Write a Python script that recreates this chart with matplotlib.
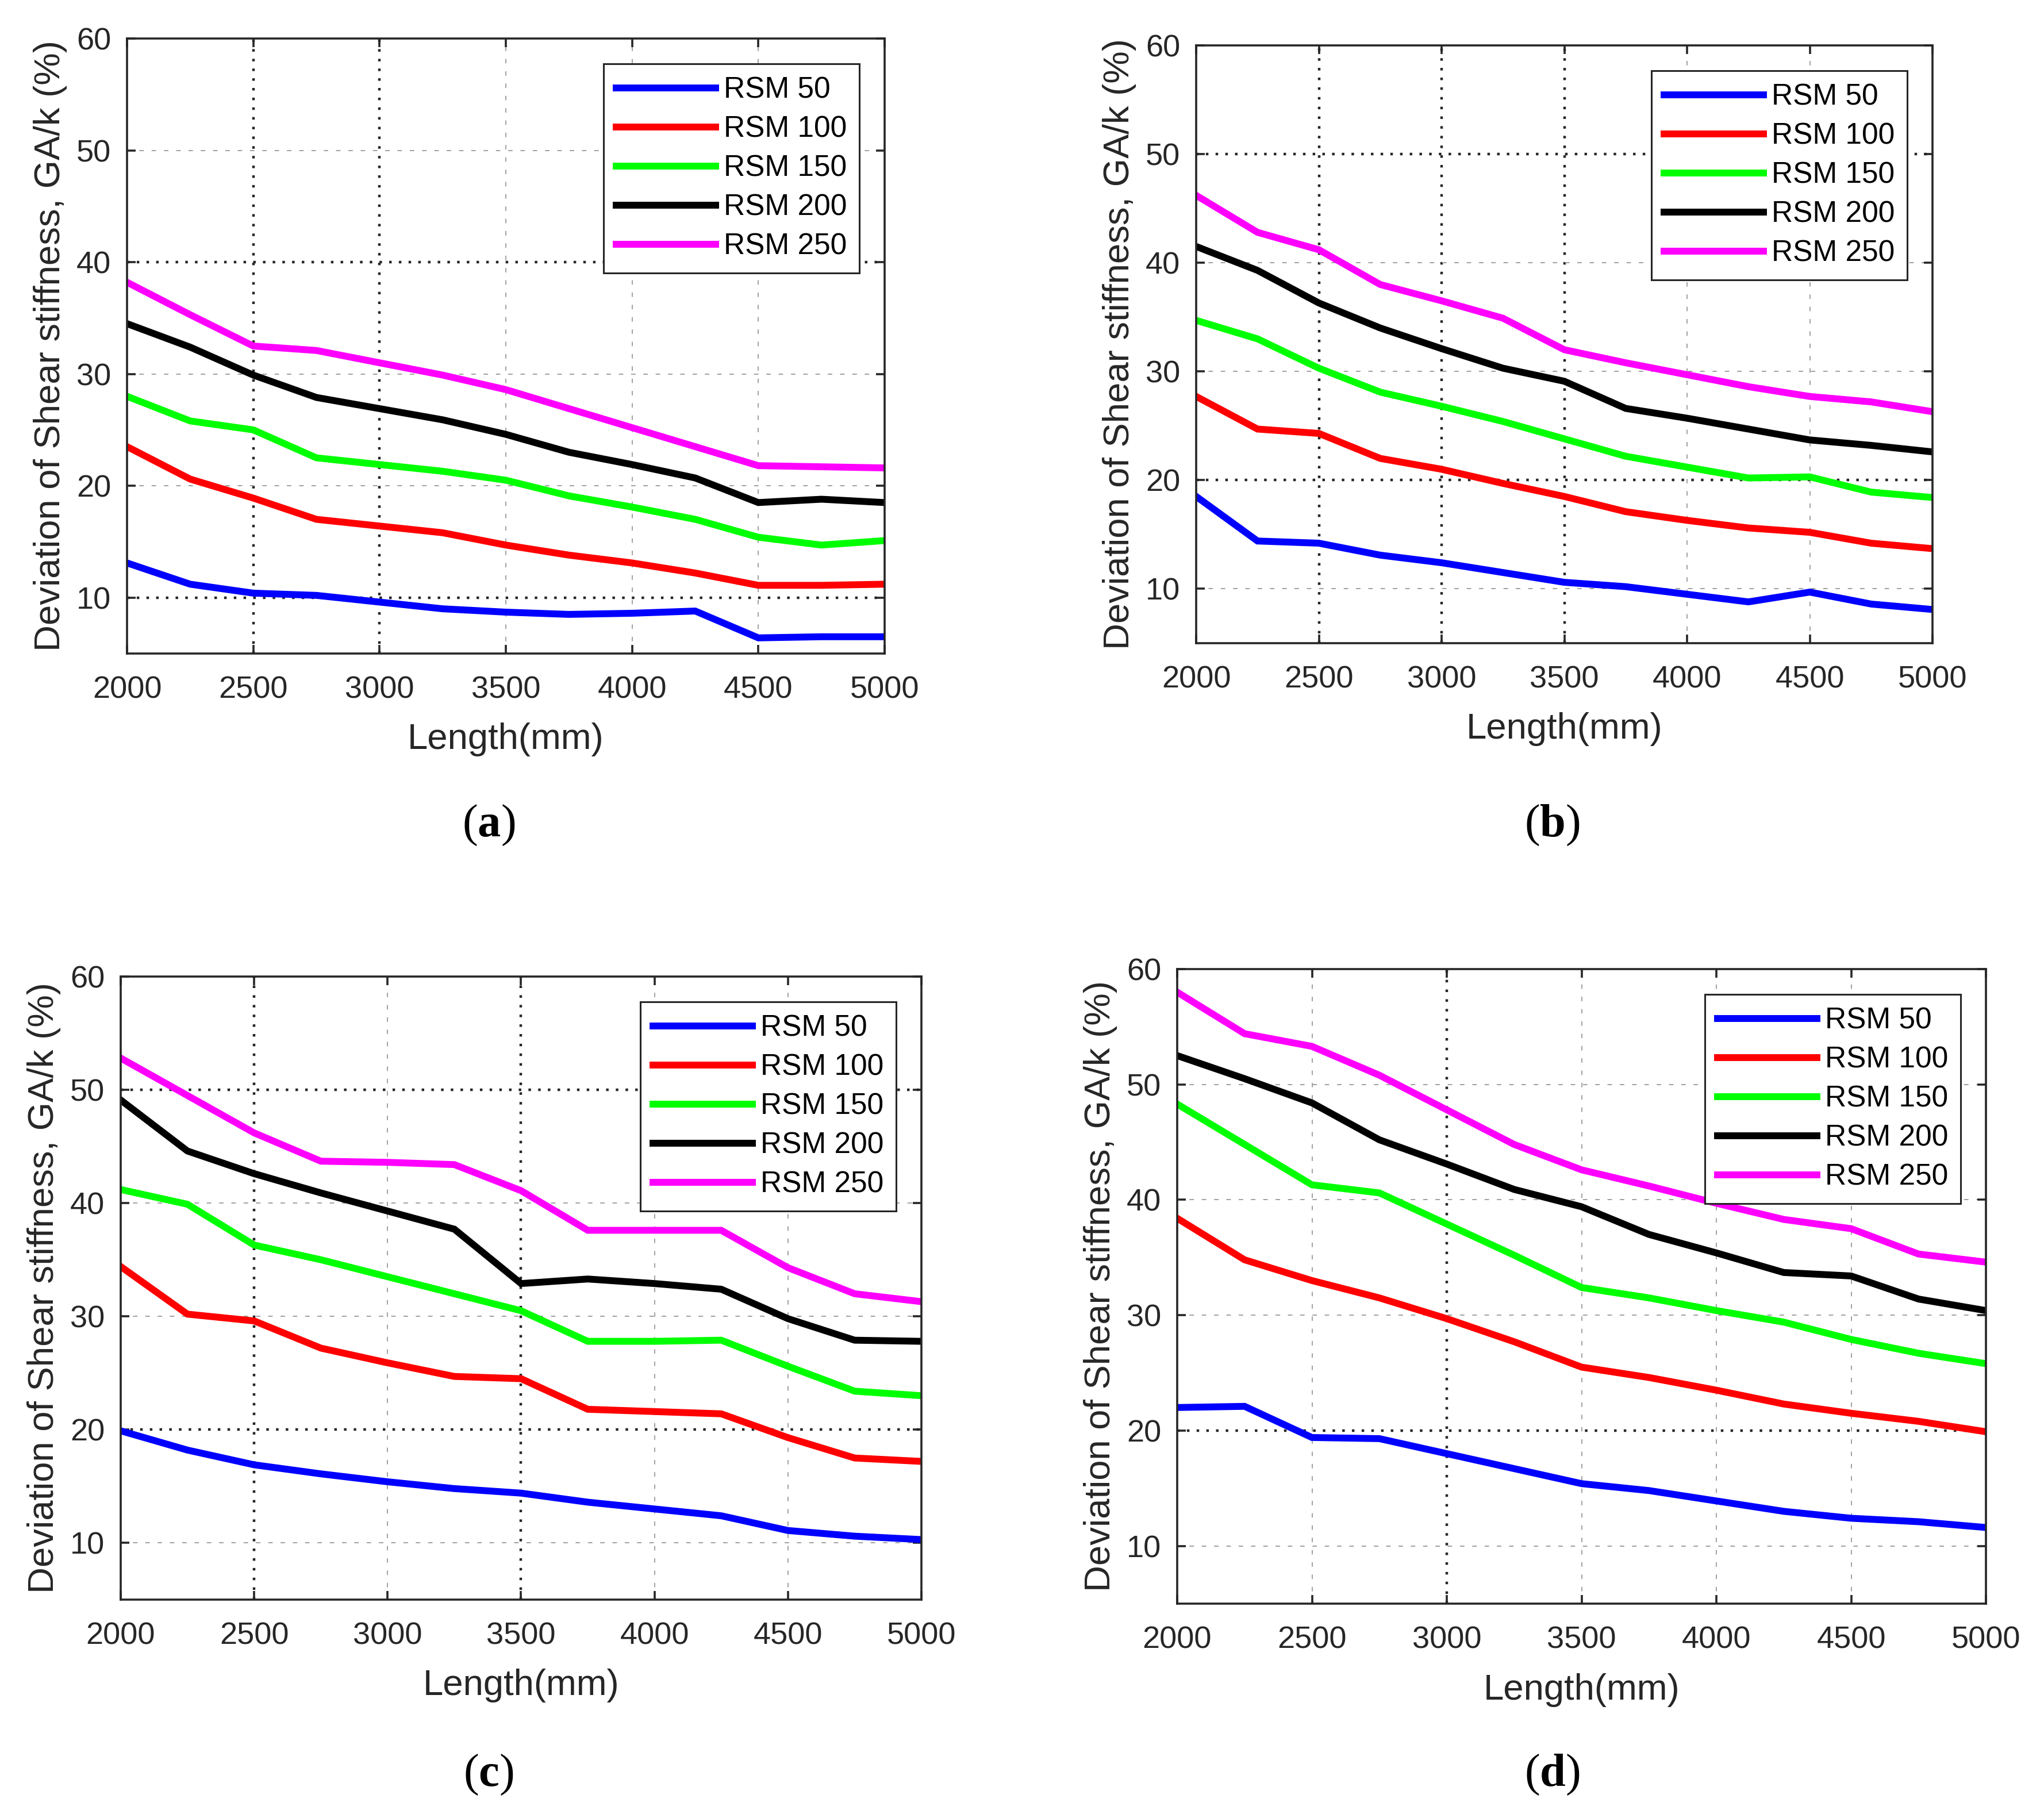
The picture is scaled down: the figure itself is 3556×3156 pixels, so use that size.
import matplotlib
matplotlib.use('Agg')
import matplotlib.pyplot as plt

plt.rcParams['font.family'] = ['Liberation Sans', 'DejaVu Sans']
plt.rcParams['mathtext.fontset'] = 'custom'
plt.rcParams['mathtext.bf'] = 'Liberation Serif:bold'
plt.rcParams['mathtext.rm'] = 'Liberation Serif'

W, H, DPI = 3556, 3156, 200
AX_COLOR = '#262626'

LENGTH = [2000, 2250, 2500, 2750, 3000, 3250, 3500, 3750, 4000, 4250, 4500, 4750, 5000]
SERIES = ['RSM 50', 'RSM 100', 'RSM 150', 'RSM 200', 'RSM 250']
COLORS = ['#0000ff', '#ff0000', '#00ff00', '#000000', '#ff00ff']
XTICKS = [2000, 2500, 3000, 3500, 4000, 4500, 5000]
YTICKS = [10, 20, 30, 40, 50, 60]

# (a)
A_RSM50 = [13.1, 11.2, 10.4, 10.2, 9.6, 9.0, 8.7, 8.5, 8.6, 8.8, 6.4, 6.5, 6.5]
A_RSM100 = [23.5, 20.6, 18.9, 17.0, 16.4, 15.8, 14.7, 13.8, 13.1, 12.2, 11.1, 11.1, 11.2]
A_RSM150 = [28.0, 25.8, 25.0, 22.5, 21.9, 21.3, 20.5, 19.1, 18.1, 17.0, 15.4, 14.7, 15.1]
A_RSM200 = [34.5, 32.4, 29.9, 27.9, 26.9, 25.9, 24.6, 23.0, 21.9, 20.7, 18.5, 18.8, 18.5]
A_RSM250 = [38.2, 35.3, 32.5, 32.1, 31.0, 29.9, 28.6, 26.9, 25.2, 23.5, 21.8, 21.7, 21.6]

# (b)
B_RSM50 = [18.5, 14.4, 14.2, 13.1, 12.4, 11.5, 10.6, 10.2, 9.5, 8.8, 9.7, 8.6, 8.1]
B_RSM100 = [27.7, 24.7, 24.3, 22.0, 21.0, 19.7, 18.5, 17.1, 16.3, 15.6, 15.2, 14.2, 13.7]
B_RSM150 = [34.7, 33.0, 30.3, 28.1, 26.8, 25.4, 23.8, 22.2, 21.2, 20.2, 20.3, 18.9, 18.4]
B_RSM200 = [41.5, 39.3, 36.3, 34.0, 32.1, 30.3, 29.1, 26.6, 25.7, 24.7, 23.7, 23.2, 22.6]
B_RSM250 = [46.2, 42.8, 41.2, 38.0, 36.5, 34.9, 32.0, 30.8, 29.7, 28.6, 27.7, 27.2, 26.3]

# (c)
C_RSM50 = [19.9, 18.2, 16.9, 16.1, 15.4, 14.8, 14.4, 13.6, 13.0, 12.4, 11.1, 10.6, 10.3]
C_RSM100 = [34.4, 30.2, 29.6, 27.2, 25.9, 24.7, 24.5, 21.8, 21.6, 21.4, 19.3, 17.5, 17.2]
C_RSM150 = [41.2, 39.9, 36.3, 35.0, 33.5, 32.0, 30.5, 27.8, 27.8, 27.9, 25.6, 23.4, 23.0]
C_RSM200 = [49.1, 44.6, 42.6, 40.9, 39.3, 37.7, 32.9, 33.3, 32.9, 32.4, 29.8, 27.9, 27.8]
C_RSM250 = [52.8, 49.5, 46.2, 43.7, 43.6, 43.4, 41.1, 37.6, 37.6, 37.6, 34.3, 32.0, 31.3]

# (d)
D_RSM50 = [22.0, 22.1, 19.4, 19.3, 18.0, 16.7, 15.4, 14.8, 13.9, 13.0, 12.4, 12.1, 11.6]
D_RSM100 = [38.4, 34.8, 33.0, 31.5, 29.7, 27.7, 25.5, 24.6, 23.5, 22.3, 21.5, 20.8, 19.9]
D_RSM150 = [48.3, 44.8, 41.3, 40.6, 37.9, 35.2, 32.4, 31.5, 30.4, 29.4, 27.9, 26.7, 25.8]
D_RSM200 = [52.5, 50.5, 48.4, 45.2, 43.1, 40.9, 39.4, 37.0, 35.4, 33.7, 33.4, 31.4, 30.4]
D_RSM250 = [58.0, 54.4, 53.3, 50.8, 47.8, 44.8, 42.6, 41.2, 39.7, 38.3, 37.5, 35.3, 34.6]

# panel layout in pixels: left, top, right, bottom, tag position, heavy grid lines
PANELS = [
    dict(tag='a', data=[A_RSM50, A_RSM100, A_RSM150, A_RSM200, A_RSM250],
         box=(221, 67, 1539, 1137), tagxy=(850, 1436), hx=[2500, 3000], hy=[40, 10]),
    dict(tag='b', data=[B_RSM50, B_RSM100, B_RSM150, B_RSM200, B_RSM250],
         box=(2081, 79, 3362, 1119), tagxy=(2700, 1436), hx=[2500, 3000, 3500], hy=[50, 20]),
    dict(tag='c', data=[C_RSM50, C_RSM100, C_RSM150, C_RSM200, C_RSM250],
         box=(210, 1699, 1603, 2783), tagxy=(850, 3088), hx=[2500, 3500], hy=[50, 20]),
    dict(tag='d', data=[D_RSM50, D_RSM100, D_RSM150, D_RSM200, D_RSM250],
         box=(2048, 1686, 3455, 2790), tagxy=(2700, 3088), hx=[3000], hy=[20]),
]


def style_grid(ax, heavy_x, heavy_y):
    pairs = list(zip(XTICKS, ax.get_xgridlines(), [heavy_x] * len(XTICKS)))
    pairs += list(zip(YTICKS, ax.get_ygridlines(), [heavy_y] * len(YTICKS)))
    for val, gl, heavy_set in pairs:
        heavy = val in heavy_set
        gl.set_color(AX_COLOR if heavy else '#a0a0a0')
        gl.set_linewidth(1.6 if heavy else 0.7)
        gl.set_linestyle((0, (1, 2.8)) if heavy else (0, (4, 7)))


fig = plt.figure(figsize=(W / DPI, H / DPI), dpi=DPI)

for p in PANELS:
    l, t, r, b = p['box']
    ax = fig.add_axes([l / W, 1 - b / H, (r - l) / W, (b - t) / H])
    for name, color, ys in zip(SERIES, COLORS, p['data']):
        ax.plot(LENGTH, ys, color=color, linewidth=4.3, label=name,
                solid_joinstyle='miter')
    ax.set_xlim(2000, 5000)
    ax.set_ylim(5, 60)
    ax.set_xticks(XTICKS)
    ax.set_yticks(YTICKS)
    ax.grid(True)
    ax.set_axisbelow(True)
    style_grid(ax, p['hx'], p['hy'])

    for s in ax.spines.values():
        s.set_color(AX_COLOR); s.set_linewidth(1.3)
    ax.tick_params(direction='in', length=5.5, width=1.3, color=AX_COLOR,
                   labelcolor=AX_COLOR, labelsize=19.5, top=True, right=True)
    ax.tick_params(axis='x', pad=14)
    ax.tick_params(axis='y', pad=10)

    ax.set_xlabel('Length(mm)', fontsize=22.8, color=AX_COLOR)
    ax.xaxis.label.set_va('center')
    ax.xaxis.set_label_coords(0.5, -150 / (b - t))
    ax.set_ylabel('Deviation of Shear stiffness, GA/k (%)', fontsize=22.8, color=AX_COLOR)
    ax.yaxis.set_label_coords(-104 / (r - l), 0.5)

    leg = ax.legend(loc='upper right', bbox_to_anchor=((r - 44) / W, 1 - (t + 44) / H),
                    bbox_transform=fig.transFigure, borderaxespad=0,
                    fontsize=18.5, handlelength=3.37, handletextpad=0.27,
                    borderpad=0.42, labelspacing=0.37, fancybox=False,
                    framealpha=1, edgecolor=AX_COLOR)
    leg.get_frame().set_linewidth(1.1)
    for txt in leg.get_texts():
        txt.set_color('black')

    tx, ty = p['tagxy']
    fig.text(tx / W, 1 - ty / H, '($\\mathbf{%s}$)' % p['tag'], fontsize=29,
             family='Liberation Serif', ha='center', va='center')

fig.savefig('out.png', dpi=DPI)
